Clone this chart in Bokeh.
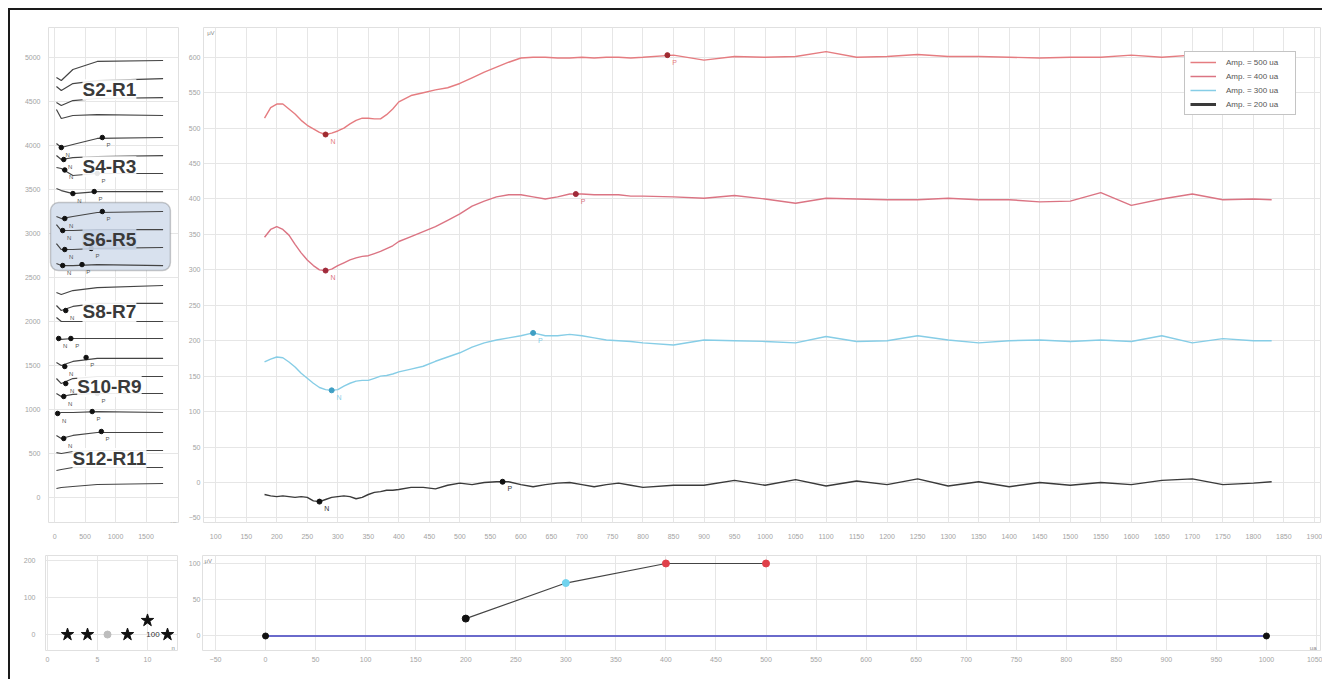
from bokeh.plotting import figure
from bokeh.models import Range1d, FixedTicker, Label, BoxAnnotation, Div, Legend, LegendItem, ColumnDataSource, Spacer
from bokeh.layouts import row, column
from bokeh.embed import file_html
from bokeh.resources import INLINE
from bokeh.core.properties import value

# ---------------- data ----------------
# main panel: responses (uV, relative to own baseline) vs time (us)
time_us = [180, 190, 200, 210, 220, 230, 240, 250, 260, 270, 280, 290, 300, 310, 320, 330, 340, 350, 360, 370,
           380, 390, 400, 420, 440, 460, 480, 500, 520, 540, 560, 580, 600, 620, 640, 660, 680, 700, 720, 740,
           760, 780, 800, 850, 900, 950, 1000, 1050, 1100, 1150, 1200, 1250, 1300, 1350, 1400, 1450, 1500, 1550,
           1600, 1650, 1700, 1750, 1800, 1830]
resp_500 = [-86, -71, -66, -66, -73, -80, -89, -96, -101, -106, -109, -107, -104, -100, -94, -89, -86, -86, -87, -87,
            -81, -73, -63, -54, -50, -46, -43, -37, -29, -21, -14, -7, -1, 0, 0, -1, -1, 0, -1, 0,
            0, -1, 0, 3, -4, 1, 0, 1, 8, 0, 1, 4, 1, 1, 0, -1, 0, 0,
            3, 0, 3, 1, 1, 3]
resp_400 = [-54, -43, -39, -43, -51, -64, -76, -86, -94, -100, -101, -99, -94, -90, -86, -83, -81, -80, -77, -74,
            -70, -66, -60, -53, -46, -39, -30, -21, -10, -3, 3, 6, 6, 3, 0, 3, 7, 7, 6, 6,
            6, 4, 4, 3, 1, 5, 0, -6, 1, 0, -1, -1, 1, -1, -1, -4, -3, 9,
            -9, 0, 7, -1, 0, -1]
resp_300 = [-30, -26, -23, -24, -30, -37, -46, -53, -60, -66, -69, -70, -69, -64, -60, -57, -56, -56, -53, -50,
            -49, -47, -44, -40, -36, -29, -23, -17, -9, -3, 1, 4, 7, 11, 7, 7, 9, 7, 4, 1,
            0, -1, -3, -6, 1, 0, -1, -3, 6, -1, 0, 7, 1, -3, 0, 1, -1, 1,
            -1, 7, -3, 3, 0, 0]
resp_200 = [-17, -19, -20, -19, -20, -21, -20, -21, -26, -27, -24, -21, -20, -19, -20, -23, -21, -17, -14, -13,
            -11, -11, -10, -7, -7, -9, -4, -1, -3, 0, 1, 1, -3, -6, -3, -1, 0, -3, -6, -3,
            -1, -4, -7, -4, -4, 3, -4, 4, -5, 2, -3, 5, -5, 1, -6, 0, -4, 0,
            -3, 3, 5, -3, -1, 1]
amp_labels = ["Amp. = 500 ua", "Amp. = 400 ua", "Amp. = 300 ua", "Amp. = 200 ua"]
trace_offset = [600, 400, 200, 0]
n_peak_x = [280, 280, 290, 270]
n_peak_y = [-109, -101, -70, -27]
p_peak_x = [840, 690, 620, 570]
p_peak_y = [3, 7, 11, 1]

# left panel: 24 stacked small traces
left_t = [30, 110, 300, 700, 1780]
left_base = [4966, 4761, 4545, 4341, 4091, 3886, 3682, 3477, 3250, 3045, 2841, 2636,
             2409, 2205, 2000, 1807, 1580, 1375, 1182, 966, 739, 534, 341, 159]
left_wave = [
    [-193, -227, -102, -11, 0], [-91, -136, -57, -23, 0], [-57, -91, -34, -11, 0], [68, -34, 0, 11, 0],
    [-68, -114, -80, -11, 0], [0, -45, -23, -11, 0], [68, 57, -23, 0, 0], [34, 11, -23, 0, 0],
    [-57, -80, -57, -11, 0], [57, -11, -11, 0, 0], [45, -23, -23, -11, 0], [23, 0, 0, 11, 0],
    [-80, -102, -57, -23, 0], [-23, -80, -34, 0, 0], [45, 0, 0, 0, 0], [0, -11, 0, 0, 0],
    [-45, -80, -34, 0, 0], [-23, -80, -23, 0, 0], [0, -34, -11, 0, 0], [-11, 0, 0, 11, 0],
    [-34, -68, -34, 0, 0], [-23, -34, -11, 0, 0], [-34, -23, 0, 0, 0], [-57, -45, -34, -11, 0],
]
left_mark_trace = [4, 4, 5, 6, 6, 7, 7, 8, 8, 9, 10, 10, 11, 11, 13, 15, 15, 16, 16, 17, 18, 18, 19, 19, 20, 20]
left_mark_kind = ["N", "P", "N", "N", "P", "N", "P", "N", "P", "N", "N", "P", "N", "P", "N", "N", "P",
                  "N", "P", "N", "N", "P", "N", "P", "N", "P"]
left_mark_x = [110, 783, 150, 167, 700, 300, 650, 167, 783, 133, 167, 600, 133, 450, 183, 67, 267,
               167, 517, 183, 150, 700, 50, 617, 150, 767]
left_mark_y = [-114, 0, -45, 40, 0, -23, 0, -80, 0, -11, -23, -11, 0, 11, -80, 0, 0,
               -91, 11, -80, -34, 0, -11, 11, -68, 11]
pair_labels = ["S2-R1", "S4-R3", "S6-R5", "S8-R7", "S10-R9", "S12-R11"]
pair_label_y = [4635, 3760, 2931, 2113, 1261, 443]

# bottom-left: response per stimulation site
stim_site = [2, 4, 6, 8, 10, 12]
stim_resp = [0, 0, 0, 0, 38, 0]
selected_site = 6

# bottom main: recruitment vs amplitude
amp_ua = [200, 300, 400, 500]
amp_resp = [24, 73, 100, 100]
thr_x = [0, 1000]
thr_y = [0, 0]

# ---------------- styling helpers ----------------
FONT = "Liberation Sans"
TICK_C = "#a3a3a3"
GRID_C = "#e6e6e6"
trace_colors = ["#e57c80", "#db7483", "#86cde6", "#3a3a3a"]
mark_colors = ["#a02a30", "#a02a3a", "#3f9fc4", "#111111"]


def make_fig(w, h, xr, yr, bl, br, bt, bb, xticks, yticks, xs, ys):
    p = figure(width=w, height=h, x_range=Range1d(*xr), y_range=Range1d(*yr), title=None,
               toolbar_location=None, output_backend="svg",
               min_border_left=bl, min_border_right=br, min_border_top=bt, min_border_bottom=bb)
    p.outline_line_color = "#e0e0e0"
    p.background_fill_color = "white"
    p.border_fill_color = "white"
    p.xaxis.ticker = FixedTicker(ticks=xticks)
    p.yaxis.ticker = FixedTicker(ticks=yticks)
    for ax in p.axis:
        ax.axis_line_color = None
        ax.major_tick_line_color = None
        ax.minor_tick_line_color = None
        ax.major_tick_out = 0
        ax.major_tick_in = 0
        ax.minor_tick_out = 0
        ax.minor_tick_in = 0
        ax.major_label_text_font = FONT
        ax.major_label_text_font_size = "7px"
        ax.major_label_text_color = TICK_C
    p.xaxis.major_label_standoff = xs
    p.yaxis.major_label_standoff = ys
    p.grid.grid_line_color = GRID_C
    p.grid.grid_line_width = 1
    return p


def unit(p, x, y, t, align="left"):
    p.add_layout(Label(x=x, y=y, text=t, text_font=FONT, text_font_size="6px",
                       text_color="#8a8a8a", text_align=align, text_baseline="middle"))


# ---------------- left panel ----------------
fl = make_fig(175, 535, (-100, 2033), (-284, 5341), 38, 7, 17, 23,
              [0, 500, 1000, 1500], list(range(0, 5001, 500)), 11, 8)
box = BoxAnnotation(left=-67, right=1900, top=3351, bottom=2579, fill_color="#d8e1ee", fill_alpha=1,
                    line_color="#555555", line_width=1.5, border_radius=8, level="underlay")
fl.add_layout(box)
for base, wave in zip(left_base, left_wave):
    fl.line(left_t, [base + v for v in wave], line_color="#444444", line_width=1.2)
mx = [x for x in left_mark_x]
my = [left_base[t] + v for t, v in zip(left_mark_trace, left_mark_y)]
fl.scatter(mx, my, size=4.5, color="#111111")
fl.text(x=[x + 70 for x in mx], y=[y - 80 for y in my], text=left_mark_kind,
        text_font=value(FONT), text_font_size="6px", text_color="#555555",
        text_align="left", text_baseline="middle")
for lab, ly in zip(pair_labels, pair_label_y):
    bg = "#c9d5e7" if lab == "S6-R5" else "white"
    fl.add_layout(Label(x=900, y=ly, text=lab, text_font=FONT, text_font_size="19px",
                        text_font_style="bold", text_color="#3a3a3a", text_align="center",
                        text_baseline="middle", background_fill_color=bg, background_fill_alpha=0.9))
unit(fl, -350, 5271, "μV")
unit(fl, 1900, -284, "μs")

# ---------------- main panel ----------------
fm = make_fig(1137, 535, (80, 1910), (-56.5, 642), 15, 2, 17, 23,
              list(range(100, 1901, 50)), list(range(-50, 601, 50)), 11, 3)
series = [resp_500, resp_400, resp_300, resp_200]
for vals, off, col in zip(series, trace_offset, trace_colors):
    fm.line(time_us, [v + off for v in vals], line_color=col, line_width=1.4)
for i in range(4):
    off = trace_offset[i]
    fm.scatter([n_peak_x[i], p_peak_x[i]], [n_peak_y[i] + off, p_peak_y[i] + off], size=5,
               color=mark_colors[i])
    fm.text(x=[n_peak_x[i] + 8, p_peak_x[i] + 8], y=[n_peak_y[i] + off - 10, p_peak_y[i] + off - 10],
            text=["N", "P"], text_font=value(FONT), text_font_size="7px",
            text_color=trace_colors[i] if i < 3 else "#333333", text_align="left", text_baseline="middle")
legend_widths = [1.5, 1.5, 1.5, 3]
items = []
for lab, col, lw in zip(amp_labels, trace_colors, legend_widths):
    r = fm.line(x=[-3000, -2900], y=[-3000, -3000], line_color=col, line_width=lw)
    items.append(LegendItem(label=lab, renderers=[r]))
leg = Legend(items=items, location="top_right", margin=24, border_line_color="#8a8a8a",
             border_line_width=1.2, background_fill_alpha=1, label_text_font=FONT,
             label_text_font_size="8px", label_text_color="#555555", glyph_width=26, glyph_height=10,
             label_height=10, spacing=4, padding=5, label_standoff=10, label_width=64)
fm.add_layout(leg)
unit(fm, 86, 634, "μV")
unit(fm, 1900, -62, "μs", "right")

# ---------------- bottom-left panel ----------------
fbl = make_fig(175, 134, (-0.2, 13), (-43, 213), 35, 8, 10, 29, [0, 5, 10], [0, 100, 200], 6, 10)
src = ColumnDataSource(dict(x=stim_site, y=stim_resp,
                            m=["circle" if s == selected_site else "star" for s in stim_site],
                            c=["#bdbdbd" if s == selected_site else "#111111" for s in stim_site],
                            s=[7 if s == selected_site else 13 for s in stim_site]))
fbl.scatter("x", "y", marker="m", color="c", size="s", source=src)
fbl.text(x=[10.55], y=[0], text=["100"], text_font=value(FONT), text_font_size="8px",
         text_color="#333333", text_align="center", text_baseline="middle")
unit(fbl, -0.8, 208, "μV", "right")
unit(fbl, 12.4, -35, "n")

# ---------------- bottom main panel ----------------
fbm = make_fig(1137, 134, (-63, 1054), (-20, 111), 13, 2, 8, 29,
               list(range(-50, 1051, 50)), [0, 50, 100], 6, 2)
fbm.line(thr_x, thr_y, line_color="#6a6acb", line_width=2)
fbm.scatter(thr_x, thr_y, size=6, color="#111111")
fbm.line(amp_ua, amp_resp, line_color="#444444", line_width=1.2)
fbm.scatter(amp_ua, amp_resp, size=7, color=["#111111", "#70d3ee", "#e0404a", "#e0404a"])
unit(fbm, -61, 104, "μV")
unit(fbm, 1050, -16, "ua", "right")

# ---------------- frame + layout ----------------
top_bar = Div(text="", width=1314, height=2, margin=0, styles={"background-color": "#1a1a1a"})
left_bar = Div(text="", width=2, height=669, margin=0, styles={"background-color": "#1a1a1a"})
body = column(row(fl, fm), row(fbl, fbm))
framed = column(top_bar, row(left_bar, body))
page = column(Spacer(width=1, height=8), row(Spacer(width=8, height=1), framed))

open("out.html", "w").write(file_html(page, INLINE))
